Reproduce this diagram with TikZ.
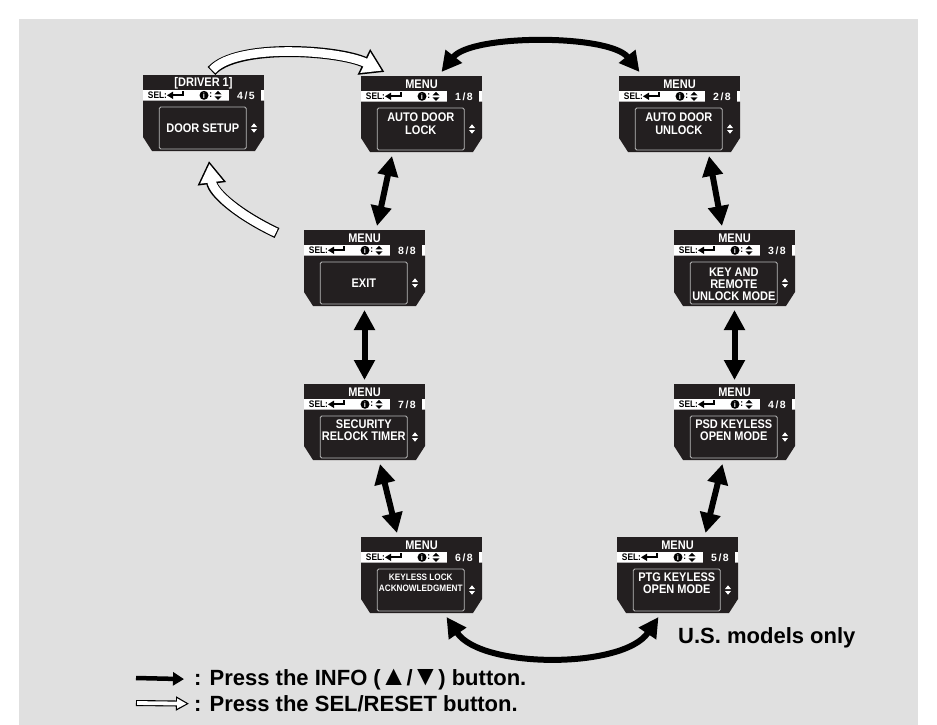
\documentclass[tikz,border=0pt]{standalone}
\usepackage{fontspec}
\setmainfont{Liberation Sans}
\newfontfamily\lcdfont[FakeStretch=0.88]{Liberation Sans}
\newfontfamily\pagefont[LetterSpace=14]{Liberation Sans}
\usetikzlibrary{arrows.meta}
\definecolor{panel}{RGB}{224,224,224}
\definecolor{lcd}{RGB}{35,31,32}
\definecolor{frame}{RGB}{185,185,185}

\begin{document}
\begin{tikzpicture}[
   x=1pt, y=-1pt,
   screen/.style={rectangle, minimum width=121pt, minimum height=76pt,
                  inner sep=0, outer sep=4pt},
   lcdtitle/.style={font=\lcdfont\bfseries\fontsize{12.5}{12}\selectfont,
                    text=white, inner sep=0},
   lcdsel/.style={font=\lcdfont\bfseries\fontsize{9.5}{9}\selectfont,
                  text=black, inner sep=0},
   lcdpage/.style={font=\pagefont\bfseries\fontsize{10.5}{10}\selectfont,
                   text=white, inner sep=0},
   lcdinfo/.style={circle, fill=black, text=white, minimum size=9pt, inner sep=0,
                   font=\bfseries\fontsize{7.5}{7}\selectfont},
   lcdbox/.style={draw=frame, line width=0.8pt, rounded corners=1.5pt,
                  minimum width=87pt, minimum height=42pt, inner sep=0},
   lcdtext/.style={text=white, align=center, inner sep=0},
   info/.style={{Triangle[length=20pt, width=20pt]}-{Triangle[length=20pt, width=20pt]},
                line width=6pt},
   selout/.style={-{Triangle[length=23pt, width=27pt]}, line width=11pt},
   selin/.style={-{Triangle[length=18.5pt, width=21.7pt]}, line width=8.6pt,
                 white, shorten >=2.9pt, shorten <=1.2pt},
   legend/.style={anchor=west, inner sep=2pt, font=\bfseries\fontsize{22}{22}\selectfont}
  ]

  % Panel
  \fill[white] (0,0) rectangle (937,725);
  \fill[panel] (19,19) rectangle (918,725);

  % Screens: name/left/top/title/page/text/text y/size/skip
  \foreach \n/\x/\y/\ttl/\pg/\txt/\ty/\fs/\bs in {
      S0/143/75/{[DRIVER 1]}/{4/5}/{DOOR SETUP}/53/12.5/12.5,
      S1/361/76/MENU/{1/8}/{AUTO DOOR\\LOCK}/47.5/12.5/12.8,
      S2/619/76/MENU/{2/8}/{AUTO DOOR\\UNLOCK}/47.5/12.5/12.8,
      S3/674/230/MENU/{3/8}/{KEY AND\\REMOTE\\UNLOCK MODE}/54/12.5/12,
      S4/674/384/MENU/{4/8}/{PSD KEYLESS\\OPEN MODE}/46/12.5/12.5,
      S5/617/537/MENU/{5/8}/{PTG KEYLESS\\OPEN MODE}/46.5/12.5/12,
      S6/361/537/MENU/{6/8}/{KEYLESS LOCK\\ACKNOWLEDGMENT}/45.5/9.3/11,
      S7/304/384/MENU/{7/8}/{SECURITY\\RELOCK TIMER}/46/12.5/12.5,
      S8/304/230/MENU/{8/8}/{EXIT}/53/12.5/12.5} {
    \node (\n) at (\x+60.5, \y+38) [screen] {};
    \begin{scope}[shift={(\x,\y)}]
      \fill[lcd] (0,0) rectangle (121,15);
      \fill[white] (0,15) rectangle (86,25.5);
      \fill[lcd] (86,15) rectangle (117.5,25.5);
      \fill[white] (117.5,15) rectangle (121,25.5);
      \fill[lcd] (0,25.5) -- (121,25.5) -- (121,62) -- (112,76) -- (9,76) -- (0,62) -- cycle;
      \node (\n-ttl) at (60.5,7.8) [lcdtitle] {\ttl};
      \node (\n-sel) at (14.5,20.5) [lcdsel] {SEL:};
      \fill (24,20.3) -- (30,16.6) -- (30,24) -- cycle;
      \draw[line width=2pt] (28,20.3) -- (39.5,20.3) -- (39.5,16.2);
      \node (\n-i) at (61,20.3) [lcdinfo] {i};
      \node (\n-col) at (67.8,20.5) [lcdsel] {:};
      \fill (71.5,19.4) -- (78.5,19.4) -- (75,15.9) -- cycle;
      \fill (71.5,21.3) -- (78.5,21.3) -- (75,24.8) -- cycle;
      \node (\n-pg) at (103,20.5) [lcdpage] {\pg};
      \node (\n-box) at (59.8,53) [lcdbox] {};
      \node (\n-txt) at (59.8,\ty) [lcdtext, font=\lcdfont\bfseries\fontsize{\fs}{\bs}\selectfont] {\txt};
      \fill[white] (108,52) -- (114,52) -- (111,48.3) -- cycle;
      \fill[white] (108,54) -- (114,54) -- (111,57.7) -- cycle;
    \end{scope}
  }

  % INFO button
  \foreach \B/\bx/\E/\ex in {S1.south/-29.5/S8.north/12.5,
                             S8.south/0/S7.north/0,
                             S7.south/15.5/S6.north/-24.5,
                             S2.south/29.5/S3.north/-12.5,
                             S3.south/0/S4.north/0,
                             S4.south/-12/S5.north/28} {
    \draw[info] ([xshift=\bx pt]\B) -- ([xshift=\ex pt]\E);
  }
  \draw[info] ([xshift=20pt]S1.north) .. controls +(30,-38) and +(-30,-38) .. ([xshift=-40pt]S2.north);
  \draw[info] ([xshift=25pt]S6.south) .. controls +(35,52) and +(-35,52) .. ([xshift=-19pt]S5.south);

  % SEL/RESET button
  \foreach \pass in {selout, selin} {
    \draw[\pass] ([xshift=8pt]S0.north) .. controls +(25,-28) and +(-45,-22) .. ([xshift=-37pt]S1.north);
    \draw[\pass] ([xshift=-23pt, yshift=-7pt]S8.north west) .. controls +(-38,-18) and +(4,32) .. ([xshift=5.5pt, yshift=-6pt]S0.south);
  }

  \node (US) at (676,638) [legend] {U.S. models only};

  % Legend
  \node (L1) at (192,679.3) [legend] {: Press the INFO ({\fontsize{28}{22}\selectfont\kern-1pt▲\kern-1pt}/{\fontsize{28}{22}\selectfont\kern-1pt▼\kern-1pt}) button.};
  \node (L2) at (192,703.7) [legend] {: Press the SEL/RESET button.};
  \coordinate (L1a) at (136,678);
  \coordinate (L2a) at (136,703);
  \draw[line width=4.5pt, shorten >=8pt, -{Triangle[length=11pt, width=13pt]}] (L1a) -- (L1.west);
  \draw[line width=6pt, shorten >=3pt, -{Triangle[length=13pt, width=13.5pt]}] (L2a) -- (L2.west);
  \draw[white, line width=3.8pt, shorten >=5.4pt, shorten <=1.1pt,
        -{Triangle[length=9.5pt, width=9.5pt]}] (L2a) -- (L2.west);

\end{tikzpicture}
\end{document}
